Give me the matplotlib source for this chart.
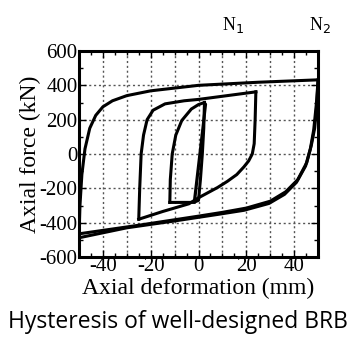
import matplotlib
matplotlib.use("Agg")
import matplotlib.pyplot as plt
import numpy as np

plt.rcParams["axes.unicode_minus"] = False

# ---- data ----
# big loop (N2, +/-50 mm): tension branch then compression branch
big_up_x = [-50, -49.6, -48.8, -47.5, -45.5, -43, -40, -36, -30, -20, 0, 25, 50]
big_up_y = [-480, -300, -120, 30, 150, 225, 275, 310, 340, 368, 400, 418, 432]
big_dn_x = [50, 49.6, 48.6, 47.2, 45.3, 41.5, 36.5, 30, 20, 10, 0, -25, -50]
big_dn_y = [432, 300, 150, 50, -50, -150, -220, -275, -315, -340, -362, -415, -465]
big2_dn_x = [50, 49.3, 48.2, 46.8, 44.8, 41, 36, 29.5, 19, 8, -10, -30, -50]
big2_dn_y = [425, 290, 140, 30, -70, -165, -235, -288, -328, -352, -390, -430, -488]

# middle loop (+/-25 mm)
mid_up_x = [-25, -24.6, -24, -23, -21.5, -19, -14, -6, 0, 12, 24]
mid_up_y = [-380, -200, 0, 110, 200, 255, 292, 310, 318, 340, 362]
mid_dn_x = [24, 23.7, 23.3, 22.5, 21, 19, 16, 12, 8, 4, 0, -4, -15, -25]
mid_dn_y = [362, 200, 60, 0, -40, -75, -120, -160, -195, -225, -255, -290, -335, -380]

# inner loop (-12 .. 3 mm)
inn_up_x = [-12, -11.8, -11, -9.5, -7, -3, 0, 2.5]
inn_up_y = [-282, -150, 0, 110, 195, 262, 288, 300]
inn_dn_x = [2.5, 2.2, 1.6, 0.8, 0, -2, -12]
inn_dn_y = [300, 150, 0, -150, -270, -282, -282]

# elastic small cycles (approx +/-2 mm)
el_x = [-2, 2.8, 3.2, -1.5, -2]
el_y = [-280, 295, 290, -285, -280]

x_major = [-40, -20, 0, 20, 40]
y_major = [-600, -400, -200, 0, 200, 400, 600]

fig = plt.figure(figsize=(3.56, 3.37), dpi=100)
ax = fig.add_axes([79/356, 1-257/337, (318-79)/356, (257-51)/337])

lw = 2.2
ax.plot(big_up_x, big_up_y, color="black", lw=lw)
ax.plot(big_dn_x, big_dn_y, color="black", lw=lw)
ax.plot(big2_dn_x, big2_dn_y, color="black", lw=lw)
ax.plot(mid_up_x, mid_up_y, color="black", lw=lw)
ax.plot(mid_dn_x, mid_dn_y, color="black", lw=lw)
ax.plot(inn_up_x, inn_up_y, color="black", lw=lw)
ax.plot(inn_dn_x, inn_dn_y, color="black", lw=lw)
ax.plot(el_x, el_y, color="black", lw=1.4)

ax.set_xlim(-50, 50)
ax.set_ylim(-600, 600)
ax.set_xticks(x_major)
ax.set_yticks(y_major)
ax.set_xticks(np.arange(-50, 51, 5), minor=True)
ax.set_yticks(np.arange(-600, 601, 100), minor=True)
for x in np.arange(-40, 41, 10):
    ax.axvline(x, color="#555555", lw=1.0, ls=(0, (1.5, 2)), zorder=0)
for y in [-400, -200, 0, 200, 400]:
    ax.axhline(y, color="#555555", lw=1.0, ls=(0, (1.5, 2)), zorder=0)

ax.tick_params(which="both", direction="in", top=True, right=True, width=1.0)
ax.tick_params(which="major", length=5, labelsize=15, pad=1)
ax.tick_params(axis="x", which="major", pad=0)
ax.tick_params(which="minor", length=3)
for s in ax.spines.values():
    s.set_linewidth(2.2)

serif = "Liberation Serif"
for lab in ax.get_xticklabels() + ax.get_yticklabels():
    lab.set_fontfamily(serif)

ax.set_xlabel("Axial deformation (mm)", fontsize=17, family=serif, labelpad=1)
ax.set_ylabel("Axial force (kN)", fontsize=17, family=serif, labelpad=-1)

fig.text(233/356, 1-25/337, r"N$_1$", fontsize=13, family=serif, ha="center", va="center")
fig.text(320/356, 1-25/337, r"N$_2$", fontsize=13, family=serif, ha="center", va="center")
fig.text(0.5, 1-322/337, "Hysteresis of well-designed BRB", fontsize=16.5,
         family="Open Sans", ha="center", va="center")

fig.savefig("out.png", dpi=100)
